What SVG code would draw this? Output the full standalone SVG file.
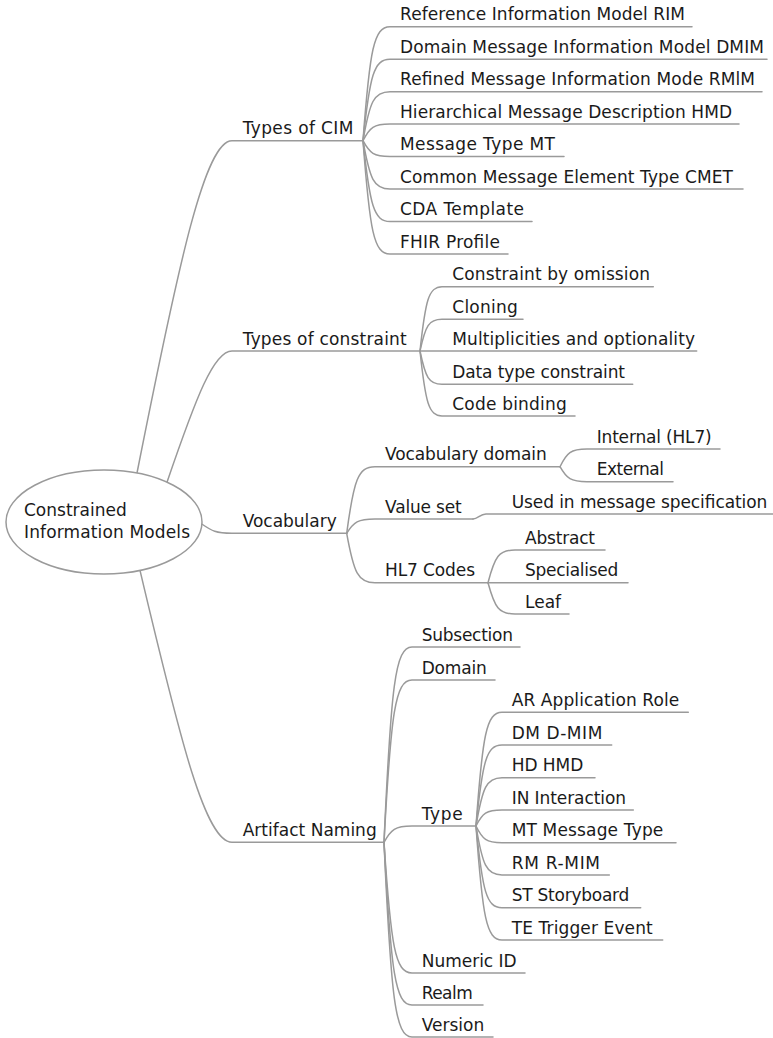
<svg xmlns="http://www.w3.org/2000/svg" width="773" height="1038" viewBox="0 0 773 1038">
<style>
.t{font-family:"DejaVu Sans","Liberation Sans",sans-serif;font-size:17px;fill:#1a1a1a}
.c{fill:none;stroke:#9a9a9a;stroke-width:1.5;stroke-linecap:round}
</style>
<rect width="773" height="1038" fill="#fff"/>
<g id="connectors" class="c">
<path d="M137,473 C179.8,257 205.4,140.7 232,140.7 H363"/>
<path d="M167,482.2 C196.3,396.7 213.8,351 232,351 H420"/>
<path d="M201.8,524 C212,531 216,533.3 232,533.3 H346.7"/>
<path d="M140,570.4 C181.4,745.6 206,842.3 232,842.3 H384"/>
<path d="M363,140.7 C369.8,49.5 373.8,26.7 390,26.7 H692"/>
<path d="M363,140.7 C369.8,75.6 373.8,59.3 390,59.3 H767"/>
<path d="M363,140.7 C369.8,101.5 373.8,91.7 390,91.7 H762"/>
<path d="M363,140.7 C369.8,127.3 373.8,124 390,124 H739"/>
<path d="M363,140.7 C369.8,153.3 373.8,156.5 390,156.5 H564"/>
<path d="M363,140.7 C369.8,179.3 373.8,189 390,189 H743"/>
<path d="M363,140.7 C369.8,205.3 373.8,221.5 390,221.5 H532"/>
<path d="M363,140.7 C369.8,231.3 373.8,254 390,254 H508"/>
<path d="M420,351 C425.5,299.6 428.8,286.7 442,286.7 H653.3"/>
<path d="M420,351 C425.5,325.6 428.8,319.3 442,319.3 H523"/>
<path d="M420,351 H696.7"/>
<path d="M420,351 C425.5,377.6 428.8,384.3 442,384.3 H632.7"/>
<path d="M420,351 C425.5,403 428.8,416 442,416 H575"/>
<path d="M346.7,533.3 C353.8,480 358,466.7 375,466.7 H560"/>
<path d="M346.7,533.3 C353.8,521.9 358,519 375,519 H473"/>
<path d="M346.7,533.3 C353.8,572.8 358,582.7 375,582.7 H488"/>
<path d="M560,466.7 C566.8,452.5 570.8,449 587,449 H720"/>
<path d="M560,466.7 C566.8,478.7 570.8,481.7 587,481.7 H673"/>
<path d="M473,519 C478,519 480,514 486,514 H773"/>
<path d="M488,582.7 C494.8,556.5 498.8,550 515,550 H605"/>
<path d="M488,582.7 H628"/>
<path d="M488,582.7 C494.8,607.7 498.8,614 515,614 H569"/>
<path d="M384,842.3 C391,686.1 395.2,647 412,647 H520"/>
<path d="M384,842.3 C391,712.5 395.2,680 412,680 H495"/>
<path d="M384,842.3 C391,829.3 395.2,826 412,826 H476"/>
<path d="M384,842.3 C391,946.9 395.2,973 412,973 H525"/>
<path d="M384,842.3 C391,972.5 395.2,1005 412,1005 H483"/>
<path d="M384,842.3 C391,998.1 395.2,1037 412,1037 H493"/>
<path d="M476,826 C482.5,735 486.4,712.3 502,712.3 H688.3"/>
<path d="M476,826 C482.5,761.2 486.4,745 502,745 H611.7"/>
<path d="M476,826 C482.5,787.4 486.4,777.7 502,777.7 H595"/>
<path d="M476,826 C482.5,813.2 486.4,810 502,810 H633.3"/>
<path d="M476,826 C482.5,839.4 486.4,842.7 502,842.7 H676"/>
<path d="M476,826 C482.5,865.2 486.4,875 502,875 H609.3"/>
<path d="M476,826 C482.5,891.4 486.4,907.7 502,907.7 H640.7"/>
<path d="M476,826 C482.5,917.2 486.4,940 502,940 H662.7"/>
</g>
<g id="root">
<ellipse cx="104" cy="522" rx="98" ry="52" fill="#fff" stroke="#9a9a9a" stroke-width="1.5"/>
<text class="t" x="24" y="516" textLength="102.7">Constrained</text>
<text class="t" x="24" y="538" textLength="166">Information Models</text>
</g>
<g id="n-types-cim"><text class="t" x="242.7" y="134.2" textLength="110.6">Types of CIM</text></g>
<g id="n-rim"><text class="t" x="400" y="20.2" textLength="285">Reference Information Model RIM</text></g>
<g id="n-dmim"><text class="t" x="400" y="52.8" textLength="364">Domain Message Information Model DMIM</text></g>
<g id="n-rmim"><text class="t" x="400" y="85.2" textLength="355">Refined Message Information Mode RMlM</text></g>
<g id="n-hmd"><text class="t" x="400" y="117.5" textLength="332">Hierarchical Message Description HMD</text></g>
<g id="n-mt"><text class="t" x="400" y="150" textLength="155">Message Type MT</text></g>
<g id="n-cmet"><text class="t" x="400" y="182.5" textLength="333">Common Message Element Type CMET</text></g>
<g id="n-cda"><text class="t" x="400" y="215" textLength="124">CDA Template</text></g>
<g id="n-fhir"><text class="t" x="400" y="247.5" textLength="100">FHIR Profile</text></g>
<g id="n-types-constraint"><text class="t" x="242.7" y="344.5" textLength="164">Types of constraint</text></g>
<g id="n-omission"><text class="t" x="452.3" y="280.2" textLength="197.7">Constraint by omission</text></g>
<g id="n-cloning"><text class="t" x="452.3" y="312.8" textLength="65.4">Cloning</text></g>
<g id="n-multiplicities"><text class="t" x="452.3" y="344.5" textLength="242.7">Multiplicities and optionality</text></g>
<g id="n-datatype"><text class="t" x="452.3" y="377.8" textLength="172.7">Data type constraint</text></g>
<g id="n-codebinding"><text class="t" x="452.3" y="409.5" textLength="114.4">Code binding</text></g>
<g id="n-vocabulary"><text class="t" x="242.7" y="526.8" textLength="94">Vocabulary</text></g>
<g id="n-vocab-domain"><text class="t" x="385" y="460.2" textLength="161.7">Vocabulary domain</text></g>
<g id="n-internal"><text class="t" x="596.7" y="442.5" textLength="115">Internal (HL7)</text></g>
<g id="n-external"><text class="t" x="596.7" y="475.2" textLength="67.3">External</text></g>
<g id="n-valueset"><text class="t" x="385" y="512.5" textLength="76.7">Value set</text></g>
<g id="n-used"><text class="t" x="511.7" y="507.5" textLength="255.6">Used in message specification</text></g>
<g id="n-hl7codes"><text class="t" x="385" y="576.2" textLength="90">HL7 Codes</text></g>
<g id="n-abstract"><text class="t" x="525" y="543.5" textLength="70">Abstract</text></g>
<g id="n-specialised"><text class="t" x="525" y="576.2" textLength="93.3">Specialised</text></g>
<g id="n-leaf"><text class="t" x="525" y="607.5">Leaf</text></g>
<g id="n-artifact"><text class="t" x="242.7" y="835.8" textLength="134">Artifact Naming</text></g>
<g id="n-subsection"><text class="t" x="421.7" y="640.5" textLength="91.3">Subsection</text></g>
<g id="n-domain"><text class="t" x="421.7" y="673.5" textLength="65">Domain</text></g>
<g id="n-type"><text class="t" x="421.7" y="819.5" textLength="41">Type</text></g>
<g id="n-ar"><text class="t" x="511.7" y="705.8" textLength="167.6">AR Application Role</text></g>
<g id="n-dm"><text class="t" x="511.7" y="738.5" textLength="90.6">DM D-MIM</text></g>
<g id="n-hd"><text class="t" x="511.7" y="771.2" textLength="71.6">HD HMD</text></g>
<g id="n-in"><text class="t" x="511.7" y="803.5" textLength="114.3">IN Interaction</text></g>
<g id="n-mtype"><text class="t" x="511.7" y="836.2" textLength="151.6">MT Message Type</text></g>
<g id="n-rm"><text class="t" x="511.7" y="868.5" textLength="88.3">RM R-MIM</text></g>
<g id="n-st"><text class="t" x="511.7" y="901.2" textLength="117.6">ST Storyboard</text></g>
<g id="n-te"><text class="t" x="511.7" y="933.5" textLength="141">TE Trigger Event</text></g>
<g id="n-numeric"><text class="t" x="421.7" y="966.5" textLength="95">Numeric ID</text></g>
<g id="n-realm"><text class="t" x="421.7" y="998.5" textLength="51">Realm</text></g>
<g id="n-version"><text class="t" x="421.7" y="1030.5" textLength="62.6">Version</text></g>
</svg>
